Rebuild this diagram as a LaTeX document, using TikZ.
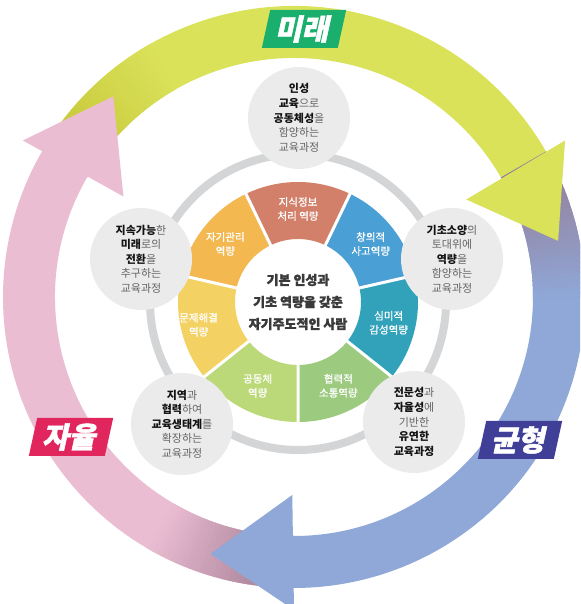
\documentclass[tikz,border=0pt]{standalone}
\usepackage{fontspec}
\setmainfont{Noto Sans CJK KR}
\newfontfamily\heavyfont{Noto Sans CJK KR}[FakeBold=1.6]
\newfontfamily\medfont{Noto Sans CJK KR}[FakeBold=1]
\definecolor{ylw}{RGB}{218,226,90}
\definecolor{ylwdark}{RGB}{196,196,52}
\definecolor{blu}{RGB}{143,168,216}
\definecolor{bludark}{RGB}{150,122,146}
\definecolor{pnk}{RGB}{235,189,211}
\definecolor{pnkdark}{RGB}{156,120,142}
\definecolor{ringgray}{RGB}{212,213,215}
\definecolor{bubblegray}{RGB}{235,235,235}
\definecolor{txtgray}{RGB}{100,100,100}
\definecolor{txtblack}{RGB}{20,20,20}
\definecolor{coregray}{RGB}{58,58,58}
\definecolor{secred}{RGB}{210,128,106}
\definecolor{secorange}{RGB}{243,184,79}
\definecolor{secyellow}{RGB}{244,209,99}
\definecolor{seclime}{RGB}{187,217,121}
\definecolor{secgreen}{RGB}{156,203,128}
\definecolor{secteal}{RGB}{49,162,186}
\definecolor{secblue}{RGB}{74,159,213}
\definecolor{tagmirae}{RGB}{27,175,109}
\definecolor{tagjayul}{RGB}{225,38,94}
\definecolor{taggyun}{RGB}{64,63,152}
\newcommand{\bk}[1]{\textbf{\color{txtblack}#1}}
\tikzset{
  bubble/.style={circle, fill=bubblegray, minimum size=102, inner sep=0, align=center, text=txtgray, font=\fontsize{11}{14.6}\selectfont},
  sectortext/.style={text=white, align=center, font=\medfont\fontsize{10.5}{14}\selectfont},
  core/.style={align=center, text=coregray, font=\heavyfont\bfseries\fontsize{13}{22}\selectfont},
  tagbox/.style={fill=#1, text=white, minimum width=76, minimum height=38, inner sep=0, font=\heavyfont\bfseries\fontsize{29}{29}\selectfont, xslant=0.22, transform shape}
}

\begin{document}
\begin{tikzpicture}[x=1pt,y=1pt]
  \fill[white] (0,0) rectangle (580,604);
  \useasboundingbox (0,0) rectangle (580,604);
  \clip (0,0) rectangle (580,604);
  \begin{scope}[shift={(294,307)}]
    \foreach \t/\m/\d in {0/ylw/ylwdark,120/pnk/pnkdark,240/blu/bludark}{
      \fill[\m] (\t+150:291) arc[start angle=\t+150, end angle=\t+29.5, radius=291] -- (\t+29.5:239) arc[start angle=\t+29.5, end angle=\t+150, radius=239] -- cycle;
      \foreach \k [evaluate=\k as \p using int(100-\k*10/3)] in {0,...,29}
        \fill[\d!\p!\m] (\t+150-\k:291) arc[start angle=\t+150-\k, delta angle=-1.3, radius=291] -- (\t+148.7-\k:239) arc[start angle=\t+148.7-\k, delta angle=1.3, radius=239] -- cycle;
    }
    \foreach \t/\m in {0/ylw,120/pnk,240/blu}
      \fill[\m] (\t+12:270) -- (\t+30:313) -- (\t+29.5:198) -- cycle;
  \end{scope}
  \begin{scope}[shift={(298,302)}]
    \draw[ringgray, line width=8] (0,0) circle[radius=148];
    \foreach \c/\i in {secred/0,secorange/1,secyellow/2,seclime/3,secgreen/4,secteal/5,secblue/6}
      \fill[\c] (64.29+51.43*\i:63) -- (64.29+51.43*\i:120) arc[start angle=64.29+51.43*\i, delta angle=51.43, radius=120] -- (115.71+51.43*\i:63) arc[start angle=115.71+51.43*\i, delta angle=-51.43, radius=63] -- cycle;
    \foreach \i in {0,...,6}
      \draw[white, line width=3] (64.29+51.43*\i:62) -- (64.29+51.43*\i:122);
    \node[core] (core) at (0,0) {기본 인성과\\기초 역량을 갖춘\\자기주도적인 사람};
    \foreach \a/\r/\s [count=\i] in {90/93/{지식정보\\처리 역량}, 141.4/93/{자기관리\\역량}, 192.9/102/{문제해결\\역량}, 244.3/93/{공동체\\역량}, 295.7/93/{협력적\\소통역량}, 347.1/93/{심미적\\감성역량}, 38.6/93/{창의적\\사고역량}}
      \node[sectortext] (sec\i) at (\a:\r) {\s};
    \node[bubble] (top) at (1,184) {\bk{인성}\\\bk{교육}으로\\\bk{공동체성}을\\함양하는\\교육과정};
    \node[bubble] (upright) at (154,43) {\bk{기초소양}의\\토대위에\\\bk{역량}을\\함양하는\\교육과정};
    \node[bubble] (lowright) at (116,-120) {\bk{전문성}과\\\bk{자율성}에\\기반한\\\bk{유연한}\\\bk{교육과정}};
    \node[bubble] (lowleft) at (-116,-122) {\bk{지역}과\\\bk{협력}하여\\\bk{교육생태계}를\\확장하는\\교육과정};
    \node[bubble] (upleft) at (-157,43) {\bk{지속가능}한\\\bk{미래}로의\\\bk{전환}을\\추구하는\\교육과정};
  \end{scope}
  \node[shift={(304,575)}, tagbox=tagmirae] (mirae) {미래};
  \node[shift={(71,167)}, tagbox=tagjayul] (jayul) {자율};
  \node[shift={(520,164)}, tagbox=taggyun] (gyun) {균형};
\end{tikzpicture}
\end{document}
